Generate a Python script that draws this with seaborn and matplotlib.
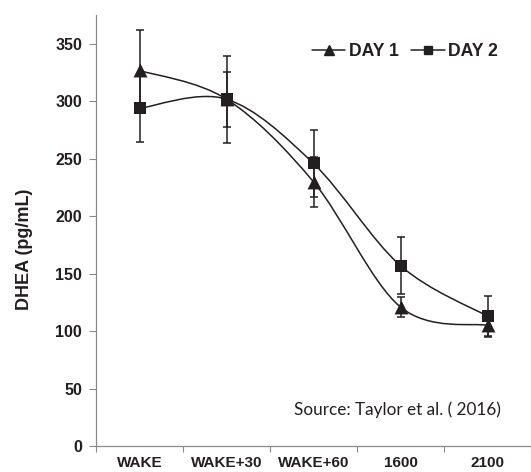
import numpy as np
import pandas as pd
import matplotlib
matplotlib.use("Agg")
import matplotlib.pyplot as plt
import seaborn as sns
from matplotlib.path import Path
from matplotlib.patches import PathPatch
from matplotlib.lines import Line2D

# ---- data ----
times = ["WAKE", "WAKE+30", "WAKE+60", "1600", "2100"]
day1 = [327, 302, 230, 121, 105]
day1_err = [35, 38, 22, 9, 9]
day2 = [294, 302, 246, 157, 113]
day2_err = [29, 24, 29, 25, 18]
y_ticks = [0, 50, 100, 150, 200, 250, 300, 350]
series_names = ["DAY 1", "DAY 2"]
y_label = "DHEA (pg/mL)"
source_text = "Source: Taylor et al. ( 2016)"

INK = "#231f20"
SPINE = "#8a8a8a"

sns.set_theme(style="white")
plt.rcParams['font.family'] = ['Liberation Sans', 'DejaVu Sans']

fig = plt.figure(figsize=(5.31, 4.72), dpi=100)
ax = fig.add_axes([96/531, 1-446/472, 1-96/531, (446-15)/472])

x = np.arange(len(times))
df = pd.DataFrame({
    "pos": np.concatenate([x, x]),
    "value": day1 + day2,
    "err": day1_err + day2_err,
    "series": [series_names[0]]*len(times) + [series_names[1]]*len(times),
})


def smooth_path(xs, ys):
    pts = np.column_stack([xs, ys]).astype(float)
    n = len(pts)
    verts = [pts[0]]
    codes = [Path.MOVETO]
    for i in range(n - 1):
        p0 = pts[i - 1] if i > 0 else pts[i]
        p1 = pts[i]
        p2 = pts[i + 1]
        p3 = pts[i + 2] if i + 2 < n else pts[i + 1]
        c1 = p1 + (p2 - p0) / 6
        c2 = p2 - (p3 - p1) / 6
        verts += [c1, c2, p2]
        codes += [Path.CURVE4] * 3
    return Path(verts, codes)


markers = {series_names[0]: "^", series_names[1]: "s"}
sizes = {series_names[0]: 100, series_names[1]: 72}

for name in series_names:
    sub = df[df["series"] == name]
    ax.add_patch(PathPatch(smooth_path(sub["pos"].values, sub["value"].values),
                           facecolor="none", edgecolor=INK, lw=1.1, zorder=2))
    ax.errorbar(sub["pos"], sub["value"], yerr=sub["err"], fmt="none",
                ecolor=INK, elinewidth=1.1, capsize=3.2, capthick=1.1, zorder=3)
    sns.scatterplot(data=sub, x="pos", y="value", marker=markers[name],
                    s=sizes[name], color=INK, edgecolor=INK, linewidth=0,
                    ax=ax, zorder=4, legend=False)

ax.set_ylim(0, 375.3)
ax.set_xlim(-0.5, 4.388)
ax.set_yticks(y_ticks)
ax.set_yticklabels([str(t) for t in y_ticks], fontsize=11.5, fontweight="bold", color=INK)
ax.set_xticks(np.arange(-0.5, len(times), 1.0))
ax.set_xticklabels([])
ax.set_xticks(x, minor=True)
ax.set_xticklabels(times, minor=True, fontsize=11, fontweight="bold", color=INK)
ax.tick_params(axis="x", which="major", direction="out", length=4, width=0.8,
               color=SPINE, bottom=True)
ax.tick_params(axis="x", which="minor", length=0, pad=7.5)
ax.tick_params(axis="y", direction="out", length=5, width=0.8, color=SPINE,
               left=True, pad=5)

ax.set_xlabel("")
ax.set_ylabel(y_label, fontsize=13, fontweight="bold", color=INK)
ax.yaxis.set_label_coords(-0.145, 0.457)

for side in ["top", "right"]:
    ax.spines[side].set_visible(False)
for side in ["left", "bottom"]:
    ax.spines[side].set_color(SPINE)
    ax.spines[side].set_linewidth(0.9)

handles = [Line2D([], [], color=INK, lw=1.1, marker=markers[n],
                  markersize=7 if n == series_names[0] else 6) for n in series_names]
leg = fig.legend(handles, series_names, loc="center", bbox_to_anchor=(405/531, 1-52/472),
                 ncol=2, frameon=False, handlelength=1.9, handletextpad=0.2,
                 columnspacing=0.7, prop={"size": 12.7, "weight": "bold"})
for t in leg.get_texts():
    t.set_color(INK)

ax.text(4.157, 32, source_text, ha="right", va="center", fontsize=12.3,
        family=["Lato", "DejaVu Sans"], color=INK)

fig.savefig("out.png", dpi=100)
